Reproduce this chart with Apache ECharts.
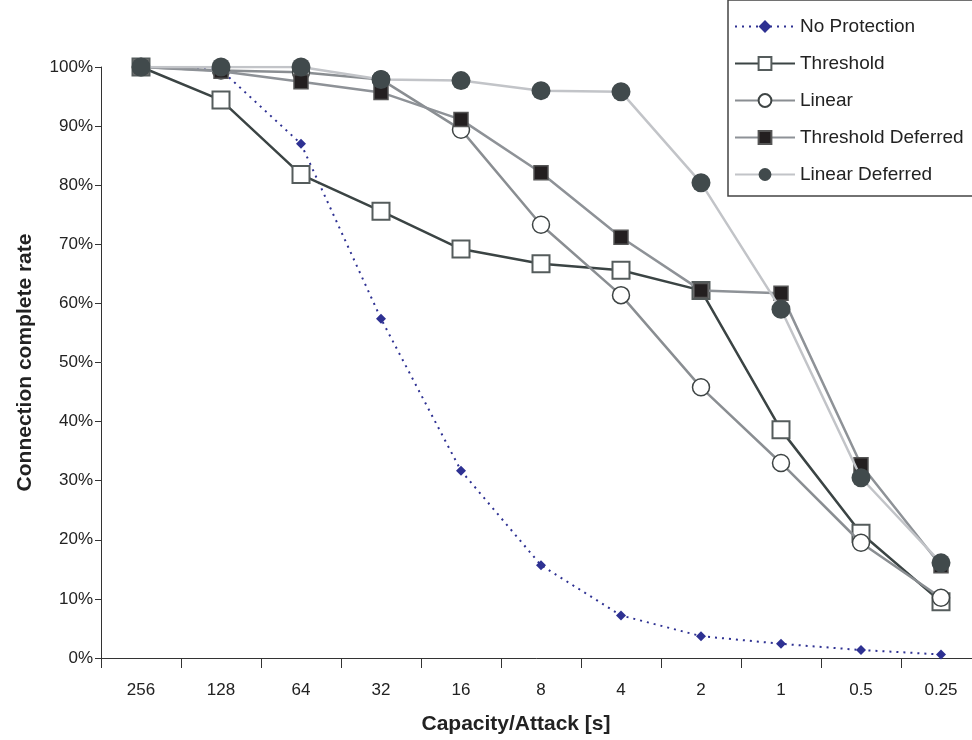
<!DOCTYPE html>
<html>
<head>
<meta charset="utf-8">
<script src="https://cdn.jsdelivr.net/npm/echarts@6/dist/echarts.min.js"></script>
<style>
  html, body { margin: 0; padding: 0; background: #fff; }
  #main { width: 972px; height: 740px; }
</style>
</head>
<body>
<div id="main"></div>
<script>
var categories = ['256', '128', '64', '32', '16', '8', '4', '2', '1', '0.5', '0.25'];

var noProtection      = [100, 99.5, 87.0, 57.4, 31.7, 15.7, 7.2, 3.7, 2.4, 1.35, 0.6];
var threshold         = [100, 94.4, 81.8, 75.6, 69.2, 66.7, 65.6, 62.2, 38.6, 21.1, 9.5];
var linear            = [100, 99.4, 99.1, 97.9, 89.4, 73.3, 61.4, 45.8, 33.0, 19.5, 10.2];
var thresholdDeferred = [100, 99.3, 97.5, 95.7, 91.1, 82.1, 71.2, 62.2, 61.7, 32.7, 15.6];
var linearDeferred    = [100, 100, 100, 97.9, 97.7, 96.0, 95.8, 80.4, 59.0, 30.5, 16.1];

var font = 'Liberation Sans, Arial, sans-serif';

var option = {
    animation: false,
    backgroundColor: '#fff',
    grid: {
        left: 101,
        right: -9,
        top: 67,
        bottom: 82,
        containLabel: false,
        outerBoundsMode: 'none'
    },
    legend: {
        orient: 'vertical',
        left: 728,
        top: 0,
        padding: [17, 12, 12, 6],
        itemGap: 18,
        itemWidth: 60,
        itemHeight: 16,
        borderColor: '#444',
        borderWidth: 1.5,
        textStyle: { fontFamily: font, fontSize: 19, color: '#222' },
        data: ['No Protection', 'Threshold', 'Linear', 'Threshold Deferred', 'Linear Deferred']
    },
    xAxis: {
        type: 'category',
        data: categories,
        boundaryGap: true,
        name: 'Capacity/Attack [s]',
        nameLocation: 'middle',
        nameGap: 56,
        nameTextStyle: { fontFamily: font, fontSize: 21, fontWeight: 'bold', color: '#222', padding: [0, 50, 0, 0] },
        axisLine: { lineStyle: { color: '#333', width: 1 } },
        axisTick: { show: true, alignWithLabel: false, length: 10, lineStyle: { color: '#333' } },
        axisLabel: { fontFamily: font, fontSize: 17, color: '#222', margin: 24 },
        splitLine: { show: false }
    },
    yAxis: {
        type: 'value',
        min: 0,
        max: 100,
        interval: 10,
        name: 'Connection complete rate',
        nameLocation: 'middle',
        nameGap: 65,
        nameTextStyle: { fontFamily: font, fontSize: 21, fontWeight: 'bold', color: '#222' },
        axisLine: { show: true, lineStyle: { color: '#333', width: 1 } },
        axisTick: { show: true, length: 6, lineStyle: { color: '#333' } },
        axisLabel: { fontFamily: font, fontSize: 17, color: '#222', margin: 8, formatter: '{value}%' },
        splitLine: { show: false }
    },
    series: [
        {
            name: 'No Protection',
            type: 'line',
            data: noProtection,
            symbol: 'diamond',
            symbolSize: 10,
            lineStyle: { color: '#2e3192', width: 2, type: [2, 5] },
            itemStyle: { color: '#2e3192' },
            z: 2
        },
        {
            name: 'Threshold',
            type: 'line',
            data: threshold,
            symbol: 'rect',
            symbolSize: 17,
            lineStyle: { color: '#3b4444', width: 2.5 },
            itemStyle: { color: '#fff', borderColor: '#555c5c', borderWidth: 2 },
            z: 3
        },
        {
            name: 'Linear',
            type: 'line',
            data: linear,
            symbol: 'circle',
            symbolSize: 17,
            lineStyle: { color: '#8a8e92', width: 2.5 },
            itemStyle: { color: '#fff', borderColor: '#3e4444', borderWidth: 1.5 },
            z: 4
        },
        {
            name: 'Threshold Deferred',
            type: 'line',
            data: thresholdDeferred,
            symbol: 'rect',
            symbolSize: 14,
            lineStyle: { color: '#8e9297', width: 2.5 },
            itemStyle: { color: '#231f20', borderColor: '#555', borderWidth: 1.5 },
            z: 5
        },
        {
            name: 'Linear Deferred',
            type: 'line',
            data: linearDeferred,
            symbol: 'circle',
            symbolSize: 19,
            lineStyle: { color: '#c2c4c8', width: 2.5 },
            itemStyle: { color: '#414a4c' },
            z: 6
        }
    ]
};

var myChart = echarts.init(document.getElementById('main'));
myChart.setOption(option);
</script>
</body>
</html>
